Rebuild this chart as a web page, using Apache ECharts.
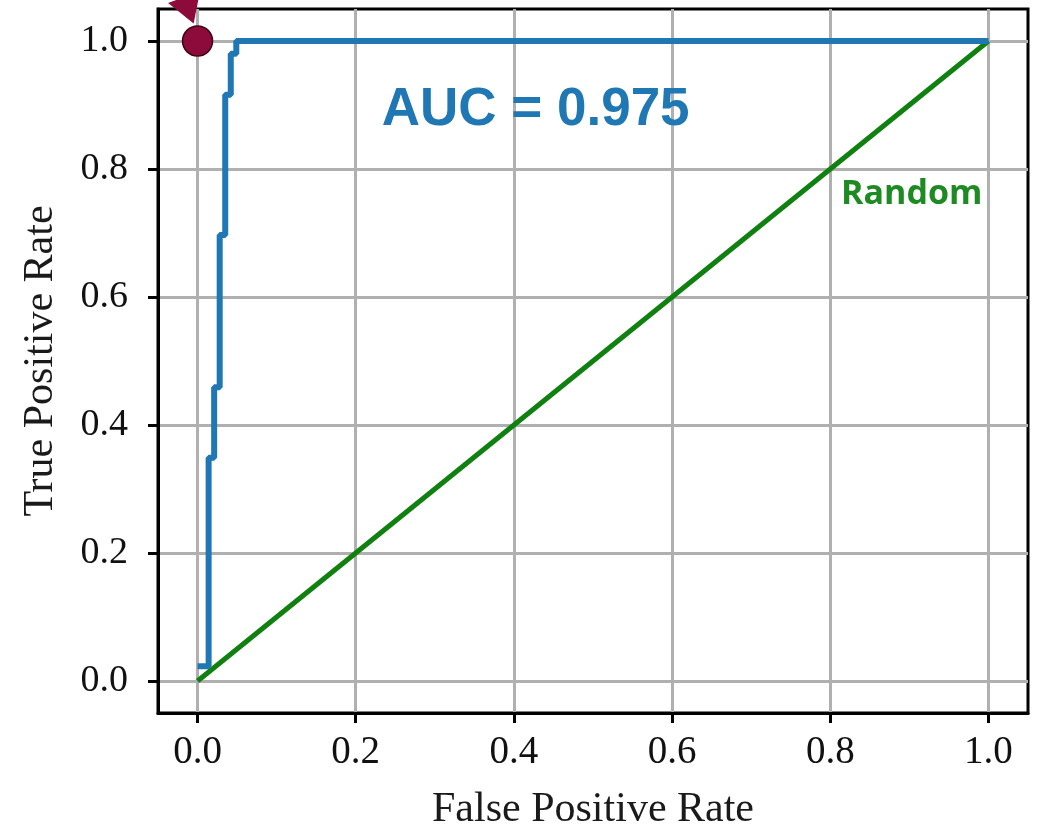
<!DOCTYPE html>
<html>
<head>
<meta charset="utf-8">
<script src="https://cdn.jsdelivr.net/npm/echarts@6/dist/echarts.min.js"></script>
<style>html,body{margin:0;padding:0;background:#fff}#c{width:1046px;height:832px}</style>
</head>
<body>
<div id="c"></div>
<script>
// ROC curve (FPR, TPR) step points
const rocFPR = [0, 0.014, 0.014, 0.021, 0.021, 0.028, 0.028, 0.035, 0.035, 0.042, 0.042, 0.049, 0.049, 1.0];
const rocTPR = [0.023, 0.023, 0.349, 0.349, 0.459, 0.459, 0.697, 0.697, 0.916, 0.916, 0.980, 0.980, 1.0, 1.0];
const randomFPR = [0, 1];
const randomTPR = [0, 1];
const optimalPoint = [0, 1];
const arrowHead = [-0.011, 1.048];
const tickValues = [0, 0.2, 0.4, 0.6, 0.8, 1.0];
const aucText = 'AUC = 0.975';
const aucPos = [0.4275, 0.891];
const randomText = 'Random';
const randomPos = [0.903, 0.76];
const xTitle = 'False Positive Rate';
const yTitle = 'True Positive Rate';

const zip = (a, b) => a.map((v, i) => [v, b[i]]);
const serif = '"Liberation Serif", "DejaVu Serif", serif';

const chart = echarts.init(document.getElementById('c'), null, {renderer: 'canvas'});
const axisCommon = {
  type: 'value', min: -0.05, max: 1.05,
  axisLine: {show: true, onZero: false, lineStyle: {color: '#000', width: 3}},
  axisTick: {show: true, inside: false, length: 10, customValues: tickValues, lineStyle: {color: '#000', width: 3}},
  splitLine: {show: true, lineStyle: {color: '#b0b0b0', width: 3}},
  nameLocation: 'middle',
  nameTextStyle: {fontFamily: serif, fontSize: 42, color: '#1a1a1a'}
};
chart.setOption({
  animation: false,
  backgroundColor: '#fff',
  grid: {left: 158, right: 18, top: 9, bottom: 119, show: true, borderColor: '#000', borderWidth: 3,
    containLabel: false, outerBoundsMode: 'none'},
  xAxis: Object.assign({}, axisCommon, {
    name: xTitle, nameGap: 76,
    axisLabel: {customValues: tickValues, margin: 20, fontFamily: serif, fontSize: 39, color: '#111',
      formatter: v => v.toFixed(1)}
  }),
  yAxis: Object.assign({}, axisCommon, {
    name: yTitle, nameGap: 96,
    axisLabel: {customValues: tickValues, margin: 30, fontFamily: serif, fontSize: 38, color: '#111',
      formatter: v => v.toFixed(1)}
  }),
  series: [
    {type: 'line', data: zip(randomFPR, randomTPR), symbol: 'none', lineStyle: {color: '#108010', width: 5}, z: 3},
    {type: 'line', data: zip(rocFPR, rocTPR), symbol: 'none', lineStyle: {color: '#1f77b4', width: 6}, z: 4},
    {type: 'scatter', data: [optimalPoint], symbol: 'circle', symbolSize: 30, clip: false,
      itemStyle: {color: '#8c0b3b', borderColor: '#3f0515', borderWidth: 1.5, opacity: 1}, z: 6},
    {type: 'scatter', data: [arrowHead], symbol: 'triangle', symbolSize: [34, 28], symbolRotate: 200, clip: false,
      itemStyle: {color: '#8c0b3b', opacity: 1}, z: 6},
    {type: 'scatter', data: [aucPos], symbolSize: 0, clip: false, silent: true,
      itemStyle: {opacity: 1},
      label: {show: true, position: 'inside', formatter: aucText, color: '#1f77b4', opacity: 1,
        fontFamily: '"Liberation Sans", Arial, sans-serif', fontWeight: 'bold', fontSize: 53}, z: 7},
    {type: 'scatter', data: [randomPos], symbolSize: 0, clip: false, silent: true,
      itemStyle: {opacity: 1},
      label: {show: true, position: 'inside', formatter: randomText, color: '#1e8a22', opacity: 1,
        fontFamily: '"Open Sans", sans-serif', fontWeight: 'bold', fontSize: 34}, z: 7}
  ]
});
</script>
</body>
</html>
